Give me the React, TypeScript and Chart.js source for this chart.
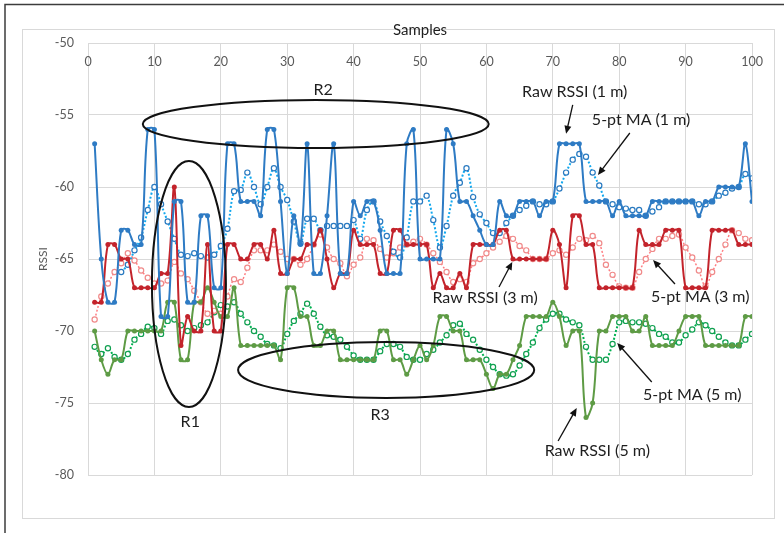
import React, { useEffect, useRef } from 'react';
import { Chart, registerables } from 'chart.js';
Chart.register(...registerables);

const samples = [1,2,3,4,5,6,7,8,9,10,11,12,13,14,15,16,17,18,19,20,21,22,23,24,25,26,27,28,29,30,31,32,33,34,35,36,37,38,39,40,41,42,43,44,45,46,47,48,49,50,51,52,53,54,55,56,57,58,59,60,61,62,63,64,65,66,67,68,69,70,71,72,73,74,75,76,77,78,79,80,81,82,83,84,85,86,87,88,89,90,91,92,93,94,95,96,97,98,99,100];
const xTickValues = [0, 10, 20, 30, 40, 50, 60, 70, 80, 90, 100];
const yTickValues = [-50, -55, -60, -65, -70, -75, -80];

const raw1m = [-57,-65,-68,-68,-63,-63,-64,-64,-56,-56, -69,-69,-61,-61,-68,-68,-62,-62,-67,-67, -57,-57,-61,-61,-61,-62,-56,-56,-61,-66, -62,-64,-57,-66,-66,-62,-57,-66,-66,-61, -62,-61,-61,-63,-66,-66,-66,-57,-56,-65, -65,-65,-65,-56,-57,-61,-61,-62,-63,-64, -64,-61,-62,-62,-61,-61,-61,-62,-61,-61, -57,-57,-57,-57,-61,-61,-61,-61,-62,-61, -62,-62,-62,-62,-61,-61,-61,-61,-61,-61, -61,-62,-61,-61,-60,-60,-60,-60,-57,-61];
const ma1m = [null,null,null,null,-65.9,-65.4,-64.4,-63.5,-61.6,-60, -61.2,-62.4,-63.6,-64.7,-64.8,-64.6,-64.8,-64.9,-64.7,-64.1, -62.9,-60.3,-60.2,-59,-60,-61.2,-60,-58.7,-60,-60.9, -62.4,-63.9,-62.2,-62.2,-63,-62.7,-62.7,-62.7,-62.7,-62.3, -63.6,-61.6,-61,-62.4,-63.4,-64.5,-64.9,-63.5,-61,-61, -60.6,-62.3,-64.2,-62.7,-60.6,-59.7,-58.7,-60.7,-61.9,-62.5, -63.2,-63.2,-62.5,-62,-61.6,-61.3,-61,-61.2,-61.2,-61, -60.1,-59,-58.1,-57.7,-57.9,-59,-59.9,-61,-61.2,-61.4, -61.5,-61.6,-61.6,-62,-61.7,-61.4,-61,-61,-61,-61, -61,-61.2,-61.2,-61,-60.6,-60.4,-60.1,-60,-59.1,-59.4];
const raw3m = [-68,-68,-64,-64,-65,-65,-67,-67,-67,-67, -66,-66,-60,-71,-69,-70,-70,-64,-70,-70, -64,-64,-65,-65,-64,-64,-65,-63,-66,-66, -65,-65,-64,-64,-63,-65,-67,-66,-66,-63, -64,-64,-64,-66,-66,-63,-63,-64,-64,-64, -64,-67,-66,-67,-67,-66,-67,-64,-64,-64, -64,-63,-63,-65,-65,-65,-65,-65,-65,-63, -64,-67,-62,-62,-64,-64,-67,-67,-67,-67, -67,-67,-63,-64,-64,-64,-63,-63,-63,-67, -67,-67,-67,-63,-63,-63,-63,-64,-64,-64];
const ma3m = [-69.2,-67.6,-66.7,-65.9,-65.3,-64.6,-65.1,-65.8,-66.3,-66.7, -66.7,-66.5,-65.2,-66,-66.4,-67.2,-68,-68.8,-68.6,-68.8, -67.6,-66.4,-66.6,-65.6,-64.4,-64.4,-64.4,-64,-64.5,-65, -65,-65.4,-65,-64,-63.3,-64.2,-65,-65.3,-66.2,-65.4, -64.9,-63.6,-63.7,-64.3,-64.9,-64.6,-64.2,-64,-63.8,-63.6, -64,-64.6,-65.2,-65.9,-66.6,-66.4,-66.6,-65.3,-65,-64.6, -64.2,-63.8,-63.4,-63.6,-64.1,-64.4,-65,-65,-65,-64.6, -64.4,-64.7,-64.2,-63.6,-63.7,-63.4,-63.9,-65.4,-66.1,-66.9, -67,-67,-65.9,-65,-64.3,-63.6,-63.6,-63.4,-63.3,-64.2, -64.9,-65.8,-66.9,-65.9,-65,-64,-63,-63.2,-63.6,-63.7];
const raw5m = [-70,-72,-73,-72,-72,-70,-70,-70,-70,-70, -70,-68,-68,-72,-72,-68,-68,-67,-68,-69, -69,-67,-71,-71,-71,-71,-71,-71,-72,-67, -67,-69,-69,-71,-71,-70,-70,-72,-72,-72, -72,-72,-72,-70,-70,-72,-72,-73,-72,-71, -72,-71,-69,-69,-70,-70,-72,-72,-72,-73, -74,-73,-73,-72,-71,-69,-69,-69,-69,-68, -69,-71,-70,-70,-76,-75,-70,-70,-69,-69, -69,-70,-70,-69,-71,-71,-71,-71,-70,-69, -69,-69,-71,-71,-71,-71,-71,-71,-69,-69];
const ma5m = [-71.1,-71.6,-71.2,-71.8,-72,-71.6,-70.6,-70.2,-69.7,-69.8, -70.2,-69.3,-69.2,-69.6,-70,-69.8,-69.6,-69.4,-68.7,-68.2, -68.3,-68,-68.8,-69.4,-70,-70.4,-70.9,-71,-71.2,-70.2, -69.3,-68.8,-68.1,-68.8,-69.7,-70.3,-70.4,-70.6,-71.1,-71.7, -72,-72,-72,-71.4,-70.9,-70.9,-71.1,-71.8,-72,-72, -71.6,-71.3,-70.8,-70.3,-69.6,-69.5,-70.2,-70.6,-71.3,-72, -72.5,-73,-73.1,-73,-72.4,-71.6,-70.8,-69.8,-69.2,-68.8, -68.8,-69.2,-69.4,-69.6,-71.1,-72,-72,-72,-70.9,-69.4, -69.3,-69.4,-69.4,-69.5,-69.8,-70.2,-70.4,-70.8,-70.8,-70.3, -69.9,-69.4,-69.6,-70,-70.4,-70.8,-71,-71,-70.6,-70.2];

// annotation layout (data coordinates)
const ellipses = [
  { cx: 34.3, cy: -55.63, rx: 26.05, ry: 1.67 },
  { cx: 15.2, cy: -66.74, rx: 5.57, ry: 8.54 },
  { cx: 44.9, cy: -72.71, rx: 22.3, ry: 1.94 },
];
const regionLabels = [
  { text: 'R2', x: 35.4, y: -53.26 },
  { text: 'R1', x: 15.4, y: -76.3 },
  { text: 'R3', x: 44.0, y: -75.85 },
];
const callouts = [
  { text: 'Raw RSSI (1 m)', x: 73.3, y: -53.4, ax1: 73.0, ay1: -54.3, ax2: 72.0, ay2: -56.3 },
  { text: '5-pt MA (1 m)', x: 83.3, y: -55.35, ax1: 81.6, ay1: -56.25, ax2: 76.8, ay2: -59.17 },
  { text: 'Raw RSSI (3 m)', x: 59.8, y: -67.7, ax1: 61.9, ay1: -66.94, ax2: 63.9, ay2: -65.2 },
  { text: '5-pt MA (3 m)', x: 92.2, y: -67.64, ax1: 88.4, ay1: -66.74, ax2: 85.1, ay2: -65.07 },
  { text: '5-pt MA (5 m)', x: 91.0, y: -74.44, ax1: 84.9, ay1: -73.54, ax2: 79.7, ay2: -70.83 },
  { text: 'Raw RSSI (5 m)', x: 76.7, y: -78.3, ax1: 70.8, ay1: -77.64, ax2: 73.6, ay2: -75.35 },
];

const FONT = 'Lato, "Open Sans", "Noto Sans", sans-serif';

const pts = (vals: (number | null)[]) => samples.map((s, i) => ({ x: s, y: vals[i] }));

const decorPlugin = {
  id: 'decor',
  beforeDraw(chart: any) {
    const ctx = chart.ctx;
    ctx.save();
    ctx.fillStyle = '#ffffff';
    ctx.fillRect(0, 0, chart.width, chart.height);
    ctx.strokeStyle = '#d9d9d9';
    ctx.lineWidth = 1;
    ctx.strokeRect(22.5, 29.5, 752, 489);
    ctx.strokeStyle = '#3c3c3c';
    ctx.lineWidth = 1.5;
    ctx.beginPath();
    ctx.moveTo(5, 533);
    ctx.lineTo(5, 4.5);
    ctx.lineTo(784, 4.5);
    ctx.stroke();
    ctx.restore();
  },
  afterDraw(chart: any) {
    const ctx = chart.ctx;
    const xs = chart.scales.x;
    const ys = chart.scales.y;
    const top = chart.chartArea.top;
    ctx.save();
    ctx.fillStyle = '#595959';
    ctx.font = `12.5px ${FONT}`;
    ctx.textAlign = 'center';
    ctx.textBaseline = 'middle';
    xTickValues.forEach((v) => {
      ctx.fillText(String(v), xs.getPixelForValue(v), top + 19);
    });
    ctx.strokeStyle = '#111111';
    ctx.lineWidth = 2;
    ellipses.forEach((e) => {
      const cx = xs.getPixelForValue(e.cx);
      const cy = ys.getPixelForValue(e.cy);
      const rx = Math.abs(xs.getPixelForValue(e.cx + e.rx) - cx);
      const ry = Math.abs(ys.getPixelForValue(e.cy + e.ry) - cy);
      ctx.beginPath();
      ctx.ellipse(cx, cy, rx, ry, 0, 0, Math.PI * 2);
      ctx.stroke();
    });
    ctx.fillStyle = '#1e1e1e';
    ctx.font = `16px ${FONT}`;
    regionLabels.forEach((r) => {
      ctx.fillText(r.text, xs.getPixelForValue(r.x), ys.getPixelForValue(r.y));
    });
    callouts.forEach((c) => {
      ctx.fillStyle = '#1e1e1e';
      ctx.fillText(c.text, xs.getPixelForValue(c.x), ys.getPixelForValue(c.y));
      const x1 = xs.getPixelForValue(c.ax1);
      const y1 = ys.getPixelForValue(c.ay1);
      const x2 = xs.getPixelForValue(c.ax2);
      const y2 = ys.getPixelForValue(c.ay2);
      const ang = Math.atan2(y2 - y1, x2 - x1);
      const hl = 8;
      const hw = 3.5;
      ctx.strokeStyle = '#111111';
      ctx.lineWidth = 1.3;
      ctx.beginPath();
      ctx.moveTo(x1, y1);
      ctx.lineTo(x2 - Math.cos(ang) * hl * 0.8, y2 - Math.sin(ang) * hl * 0.8);
      ctx.stroke();
      ctx.fillStyle = '#111111';
      ctx.beginPath();
      ctx.moveTo(x2, y2);
      ctx.lineTo(x2 - Math.cos(ang) * hl - Math.sin(ang) * hw, y2 - Math.sin(ang) * hl + Math.cos(ang) * hw);
      ctx.lineTo(x2 - Math.cos(ang) * hl + Math.sin(ang) * hw, y2 - Math.sin(ang) * hl - Math.cos(ang) * hw);
      ctx.closePath();
      ctx.fill();
    });
    ctx.restore();
  },
};

export default function App() {
  const ref = useRef<HTMLCanvasElement | null>(null);
  useEffect(() => {
    if (!ref.current) return;
    const rawStyle = (color: string) => ({
      borderColor: color,
      backgroundColor: color,
      pointBackgroundColor: color,
      pointBorderColor: color,
      borderWidth: 2,
      pointRadius: 2.5,
      pointBorderWidth: 0,
      tension: 0.35,
      fill: false,
    });
    const maStyle = (line: string, marker: string) => ({
      borderColor: line,
      backgroundColor: '#ffffff',
      pointBackgroundColor: '#ffffff',
      pointBorderColor: marker,
      borderWidth: 2,
      borderDash: [2, 2],
      pointRadius: 2.6,
      pointBorderWidth: 1.2,
      tension: 0.35,
      fill: false,
      spanGaps: false,
    });
    const chart = new Chart(ref.current, {
      type: 'line',
      data: {
        datasets: [
          { label: 'Raw RSSI (1 m)', data: pts(raw1m), ...rawStyle('#2E7BC4') },
          { label: 'Raw RSSI (3 m)', data: pts(raw3m), ...rawStyle('#C3232B') },
          { label: 'Raw RSSI (5 m)', data: pts(raw5m), ...rawStyle('#5E9B45') },
          { label: '5-pt MA (1 m)', data: pts(ma1m), ...maStyle('#12A8EE', '#2A7AC0') },
          { label: '5-pt MA (3 m)', data: pts(ma3m), ...maStyle('#FF7C80', '#F08A8A'), borderWidth: 1.5 },
          { label: '5-pt MA (5 m)', data: pts(ma5m), ...maStyle('#00B050', '#10A050') },
        ] as any,
      },
      options: {
        animation: false,
        responsive: false,
        maintainAspectRatio: false,
        layout: { padding: { left: 0, right: 32, top: 0, bottom: 58 } },
        plugins: { legend: { display: false }, tooltip: { enabled: false } },
        scales: {
          x: {
            type: 'linear',
            position: 'top',
            min: 0,
            max: 100,
            afterBuildTicks: (scale: any) => {
              scale.ticks = xTickValues.map((v) => ({ value: v }));
            },
            afterFit: (scale: any) => {
              scale.height = 43;
            },
            ticks: { display: false },
            grid: { color: '#d9d9d9', lineWidth: 1, drawTicks: false },
            border: { color: '#d9d9d9' },
            title: {
              display: true,
              text: 'Samples',
              color: '#1e1e1e',
              font: { family: FONT, size: 15 },
              padding: { top: 21, bottom: 0 },
            },
          },
          y: {
            type: 'linear',
            min: -80,
            max: -50,
            afterBuildTicks: (scale: any) => {
              scale.ticks = yTickValues.map((v) => ({ value: v }));
            },
            afterFit: (scale: any) => {
              scale.width = 88;
            },
            ticks: {
              color: '#595959',
              font: { family: FONT, size: 12.5 },
              padding: 14,
            },
            grid: { color: '#d9d9d9', lineWidth: 1, drawTicks: false },
            border: { color: '#d9d9d9' },
            title: {
              display: true,
              text: 'RSSI',
              color: '#595959',
              font: { family: FONT, size: 12 },
              padding: { top: 36, bottom: 0 },
            },
          },
        },
      } as any,
      plugins: [decorPlugin],
    });
    return () => chart.destroy();
  }, []);
  return (
    <div style={{ position: 'absolute', left: 0, top: 0, width: 784, height: 533 }}>
      <canvas ref={ref} width={784} height={533} style={{ width: 784, height: 533, display: 'block' }} />
    </div>
  );
}
